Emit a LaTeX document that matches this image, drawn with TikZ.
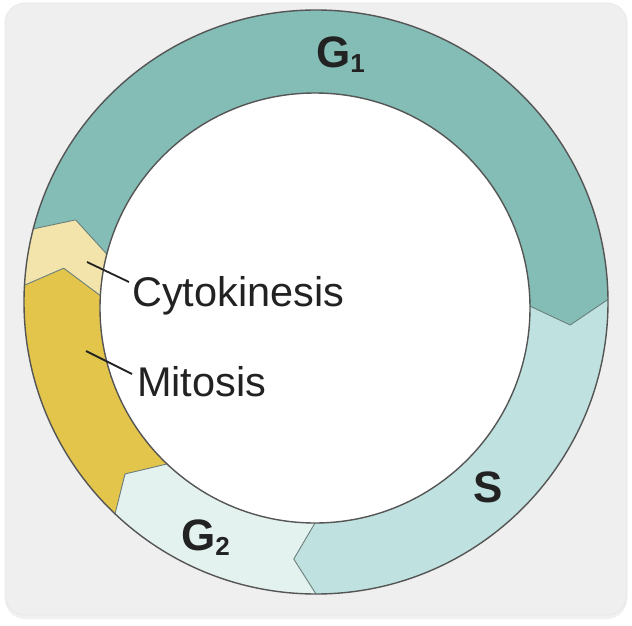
\documentclass[tikz,border=0pt]{standalone}
\usepackage{fontspec}
\setmainfont{Liberation Sans}
\usetikzlibrary{calc}
\definecolor{bgc}{HTML}{EFEFEF}
\definecolor{gone}{HTML}{83BDB6}
\definecolor{sph}{HTML}{BFE1DF}
\definecolor{gtwo}{HTML}{E3F1EF}
\definecolor{mit}{HTML}{E3C54B}
\definecolor{cytc}{HTML}{F3E4AC}
\definecolor{ringline}{HTML}{555555}
\definecolor{segline}{HTML}{6A7F7C}
\definecolor{txt}{HTML}{222222}
\newcommand\subn[1]{{\fontsize{26}{26}\selectfont\raisebox{-5pt}{#1}}}
\newcommand\pp[1]{($(Cm)+(#1:420)$)}
\newcommand\bnd[2]{%
  \coordinate (#1i) at ($(Ci)+(#2:215)$);
  \coordinate (#1t) at ($(Cm)+({#2+5}:255)$);
  \coordinate (#1o) at ($(Co)+(#2:292)$);
  \coordinate (#1f) at ($(Cm)+(#2:420)$);
}
\begin{document}
\begin{tikzpicture}[x=1pt,y=-1pt,
  seg/.style={segline, line width=0.9pt, line join=round},
  ring/.style={ringline, line width=1.4pt},
  phase/.style={inner sep=0pt, anchor=base west, text=txt, font=\bfseries\fontsize{44}{50}\selectfont},
  lbl/.style={inner sep=0pt, anchor=base west, text=txt, font=\fontsize{41.5}{48}\selectfont},
  leader/.style={txt, line width=1.8pt}]
\useasboundingbox (0,0) rectangle (632,626);
\fill[white] (0,0) rectangle (632,626);
\fill[black!6, rounded corners=20] (5,6) rectangle (627,619);
\draw[fill=bgc, draw=black!9, line width=0.8pt, rounded corners=20] (5,3) rectangle (627,615);
\coordinate (Co) at (316,302);
\coordinate (Ci) at (315,308);
\coordinate (Cm) at (316,305);
\bnd{a}{-0.5}
\bnd{b}{90}
\bnd{c}{133.5}
\bnd{d}{183.3}
\bnd{e}{194.5}
\begin{scope}
\clip (Co) circle[radius=292];
% G1
\fill[gone] (Ci) -- (ei) -- (et) -- (eo) -- (ef) -- \pp{230} -- \pp{270} -- \pp{310} -- \pp{340} -- (af) -- (ao) -- (at) -- (ai) -- cycle;
% S
\fill[sph] (Ci) -- (ai) -- (at) -- (ao) -- (af) -- \pp{30} -- \pp{60} -- (bf) -- (bo) -- (bt) -- (bi) -- cycle;
% G2
\fill[gtwo] (Ci) -- (bi) -- (bt) -- (bo) -- (bf) -- \pp{112} -- (cf) -- (co) -- (ct) -- (ci) -- cycle;
% Mitosis
\fill[mit] (Ci) -- (ci) -- (ct) -- (co) -- (cf) -- \pp{158} -- (df) -- (do) -- (dt) -- (di) -- cycle;
% Cytokinesis
\fill[cytc] (Ci) -- (di) -- (dt) -- (do) -- (df) -- (ef) -- (eo) -- (et) -- (ei) -- cycle;
\foreach \n in {a,b,c,d,e} {\draw[seg] (\n i) -- (\n t) -- (\n o);}
\end{scope}
\draw[ring, fill=white] (Ci) circle[radius=215];
\draw[ring] (Co) circle[radius=292];
% labels
\node[phase] (g1) at (316,68) {G\subn{1}};
\node[phase] (s) at (473,502) {S};
\node[phase] (g2) at (181,550) {G\subn{2}};
\node[lbl] (cyk) at (132,306) {Cytokinesis};
\node[lbl] (mts) at (137,396) {Mitosis};
\coordinate (ck1) at (87,262);
\coordinate (ck2) at (129,282);
\coordinate (mt1) at (86,351);
\coordinate (mt2) at (132,374);
\draw[leader] (ck1) -- (ck2);
\draw[leader] (mt1) -- (mt2);
\end{tikzpicture}
\end{document}
